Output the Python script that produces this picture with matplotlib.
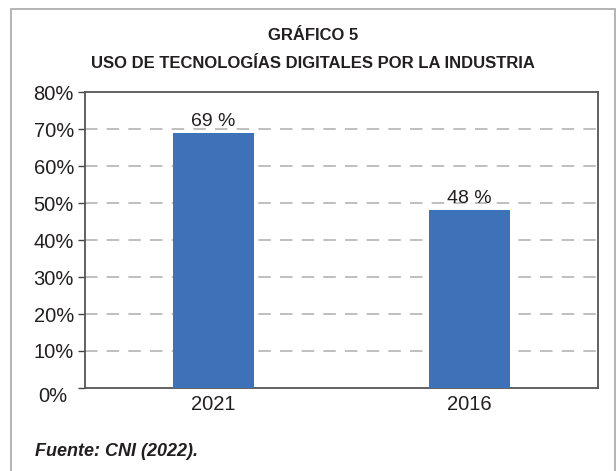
import matplotlib
matplotlib.use("Agg")
import matplotlib.pyplot as plt
from matplotlib.patches import Rectangle
import matplotlib.transforms as mtransforms

categories = ["2021", "2016"]
values = [69, 48]
yticks = [0, 10, 20, 30, 40, 50, 60, 70, 80]
ytick_labels = ["0%", "10%", "20%", "30%", "40%", "50%", "60%", "70%", "80%"]
title_lines = ["GRÁFICO 5", "USO DE TECNOLOGÍAS DIGITALES POR LA INDUSTRIA"]
source = "Fuente: CNI (2022)."

plt.rcParams['font.family'] = ['Liberation Sans', 'DejaVu Sans']

W, H = 616, 471
fig = plt.figure(figsize=(W / 100, H / 100), dpi=100)

# outer border (open at bottom)
fig.add_artist(Rectangle((11 / W, -0.05), (615 - 11) / W, 1.05 - 9 / H,
                         transform=fig.transFigure, fill=False,
                         edgecolor="#a8a8a8", linewidth=1.2))

ax = fig.add_axes([85 / W, 1 - 388 / H, (598 - 85) / W, (388 - 92) / H])
x = list(range(len(categories)))
ax.bar(x, values, width=0.315, color="#3D71B8", zorder=3)
ax.set_xlim(-0.5, 1.5)
ax.set_ylim(0, 80)
ax.set_yticks(yticks)
ax.set_yticklabels(ytick_labels, fontsize=14.5, color="#231f20")
ax.set_xticks(x)
ax.set_xticklabels(categories, fontsize=14.5, color="#231f20")
ax.tick_params(axis="x", length=0, pad=5)
ax.tick_params(axis="y", length=5, width=1, color="#444444", pad=3)
# the 0% label sits slightly below/left of the axis corner in the original
lbl0 = ax.get_yticklabels()[0]
lbl0.set_transform(lbl0.get_transform() + mtransforms.ScaledTranslation(-7 / 100, -7 / 100, fig.dpi_scale_trans))
for yv in yticks[1:-1]:
    ax.axhline(yv, color="#b4b4b4", linestyle=(0, (7.5, 5.5)), linewidth=1.2, zorder=1)
for s in ax.spines.values():
    s.set_color("#555555")
    s.set_linewidth(1.3)
for xi, v in zip(x, values):
    ax.text(xi, v + 0.8, f"{v} %", ha="center", va="bottom", fontsize=14, color="#231f20")

fig.text(313 / W, 1 - 35 / H, title_lines[0], ha="center", va="center",
         fontsize=12, fontweight="bold", color="#231f20")
fig.text(313 / W, 1 - 64 / H, title_lines[1], ha="center", va="center",
         fontsize=12, fontweight="bold", color="#231f20")
fig.text(35 / W, 1 - 451 / H, source, ha="left", va="center",
         fontsize=13, fontweight="bold", fontstyle="italic", color="#231f20")

fig.savefig("out.png", dpi=100)
